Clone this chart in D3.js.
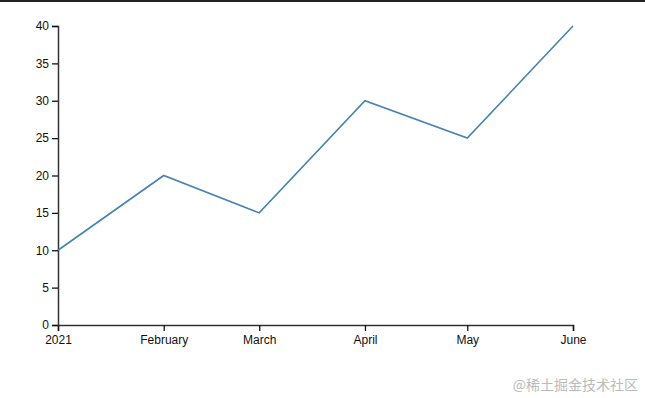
<!DOCTYPE html>
<html>
<head>
<meta charset="utf-8">
<script src="https://cdn.jsdelivr.net/npm/d3@7"></script>
<style>
  body { margin: 0; background: #fff; }
  svg { display: block; }
</style>
</head>
<body>
<div id="chart"></div>
<script>
const months = ["2021-01-01", "2021-02-01", "2021-03-01", "2021-04-01", "2021-05-01", "2021-06-01"];
const values = [10, 20, 15, 30, 25, 40];
const yTicks = [0, 5, 10, 15, 20, 25, 30, 35, 40];

const width = 645, height = 398;
const margin = { top: 26, right: 72, bottom: 73, left: 58 };

const parse = d3.timeParse("%Y-%m-%d");
const data = months.map((m, i) => ({ date: parse(m), value: values[i] }));

const svg = d3.select("#chart")
  .append("svg")
  .attr("width", width)
  .attr("height", height);

// top border strip of the screenshot
svg.append("rect")
  .attr("x", 0).attr("y", 0)
  .attr("width", width).attr("height", 2)
  .attr("fill", "#222");

const x = d3.scaleTime()
  .domain(d3.extent(data, d => d.date))
  .range([margin.left, width - margin.right]);

const y = d3.scaleLinear()
  .domain([0, 40])
  .range([height - margin.bottom, margin.top]);

// X axis
svg.append("g")
  .attr("transform", `translate(0,${height - margin.bottom})`)
  .call(d3.axisBottom(x)
    .tickValues(data.map(d => d.date))
    .tickPadding(4)
    .tickFormat((d, i) => i === 0 ? "2021" : d3.timeFormat("%B")(d)));

// Y axis
svg.append("g")
  .attr("transform", `translate(${margin.left},0)`)
  .call(d3.axisLeft(y).tickValues(yTicks));

svg.selectAll(".domain").attr("stroke", "#333").attr("stroke-width", 1.5);
svg.selectAll(".tick line").attr("stroke", "#111").attr("stroke-width", 1.3);
svg.selectAll(".tick text")
  .attr("fill", "#111")
  .style("font-family", "Arial, 'Liberation Sans', sans-serif")
  .style("font-size", "12px");

// line
const line = d3.line()
  .x(d => x(d.date))
  .y(d => y(d.value));

svg.append("path")
  .datum(data)
  .attr("fill", "none")
  .attr("stroke", "steelblue")
  .attr("stroke-width", 1.6)
  .attr("d", line);

// watermark
svg.append("text")
  .attr("x", 638)
  .attr("y", 390)
  .attr("text-anchor", "end")
  .attr("fill", "#bbb")
  .style("font-family", "'Noto Sans CJK SC', sans-serif")
  .style("font-size", "14px")
  .text("@稀土掘金技术社区");
</script>
</body>
</html>
